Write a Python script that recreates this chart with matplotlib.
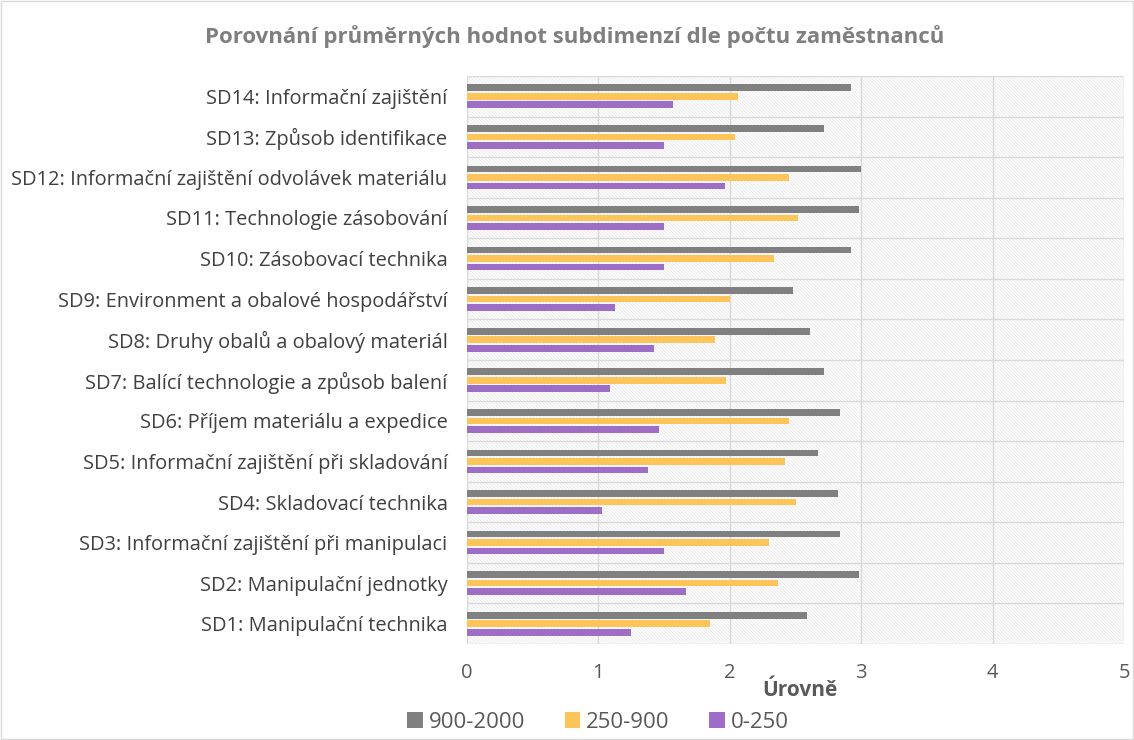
import numpy as np
import matplotlib
matplotlib.use("Agg")
import matplotlib.pyplot as plt
from matplotlib.patches import Rectangle

plt.rcParams['font.family'] = ['Open Sans', 'DejaVu Sans']
plt.rcParams['hatch.linewidth'] = 0.4

categories = [
    "SD1: Manipulační technika",
    "SD2: Manipulační jednotky",
    "SD3: Informační zajištění při manipulaci",
    "SD4: Skladovací technika",
    "SD5: Informační zajištění při skladování",
    "SD6: Příjem materiálu a expedice",
    "SD7: Balící technologie a způsob balení",
    "SD8: Druhy obalů a obalový materiál",
    "SD9: Environment a obalové hospodářství",
    "SD10: Zásobovací technika",
    "SD11: Technologie zásobování",
    "SD12: Informační zajištění odvolávek materiálu",
    "SD13: Způsob identifikace",
    "SD14: Informační zajištění",
]
series_names = ["900-2000", "250-900", "0-250"]
v_900_2000 = [2.59, 2.98, 2.84, 2.82, 2.67, 2.84, 2.72, 2.61, 2.48, 2.92, 2.98, 3.00, 2.72, 2.92]
v_250_900 = [1.85, 2.37, 2.30, 2.50, 2.42, 2.45, 1.97, 1.89, 2.00, 2.34, 2.52, 2.45, 2.04, 2.06]
v_0_250 = [1.25, 1.67, 1.50, 1.03, 1.38, 1.46, 1.09, 1.42, 1.13, 1.50, 1.50, 1.96, 1.50, 1.57]
x_ticks = [0, 1, 2, 3, 4, 5]

colors = ["#808080", "#FDC45A", "#9E6DC6"]

fig = plt.figure(figsize=(11.34, 7.4), dpi=100)
fig.patch.set_facecolor("white")
fig.patches.append(Rectangle((0.001, 0.001), 0.998, 0.998, transform=fig.transFigure,
                             fill=False, edgecolor="#d9d9d9", linewidth=1))

ax = fig.add_axes([467 / 1134, 1 - 644 / 740, (1124 - 467) / 1134, (644 - 76) / 740])
ax.set_facecolor("#fcfcfc")
ax.add_patch(Rectangle((0, 0), 1, 1, transform=ax.transAxes, facecolor="none",
                       edgecolor="#e4e4e4", hatch="\\" * 10, linewidth=0, zorder=0))

y = np.arange(len(categories))
h = 0.165
step = 0.21
for vals, off, c, name in zip([v_900_2000, v_250_900, v_0_250], [step, 0, -step], colors, series_names):
    ax.barh(y + off, vals, height=h, color=c, label=name, zorder=3)

ax.set_xlim(0, 5)
ax.set_ylim(-0.5, len(categories) - 0.5)
ax.set_xticks(x_ticks)
ax.set_xticklabels([str(t) for t in x_ticks])
ax.set_yticks(y)
ax.set_yticklabels(categories)

for xv in x_ticks:
    ax.axvline(xv, color="#d9d9d9", linewidth=1, zorder=1)
for yb in np.arange(-0.5, len(categories), 1.0):
    ax.axhline(yb, color="#d9d9d9", linewidth=1, zorder=1)

for s in ax.spines.values():
    s.set_visible(False)
ax.tick_params(axis='both', length=0)
ax.tick_params(axis='y', pad=14, labelsize=14.4, labelcolor="#404040")
ax.tick_params(axis='x', pad=14, labelsize=14.5, labelcolor="#595959")

fig.text(575 / 1134, 1 - 37 / 740, "Porovnání průměrných hodnot subdimenzí dle počtu zaměstnanců",
         ha="center", va="center", fontsize=16, fontweight="bold", color="#7f7f7f")
fig.text(800 / 1134, 1 - 690 / 740, "Úrovně", ha="center", va="center",
         fontsize=15, fontweight="bold", color="#595959")

leg = fig.legend(loc="center", bbox_to_anchor=(598 / 1134, 1 - 722 / 740), ncol=3,
                 frameon=False, fontsize=16, handlelength=0.7, handleheight=0.7,
                 handletextpad=0.25, columnspacing=1.8, labelcolor="#595959",
                 borderpad=0, borderaxespad=0)

fig.savefig("out.png", dpi=100, facecolor="white")
